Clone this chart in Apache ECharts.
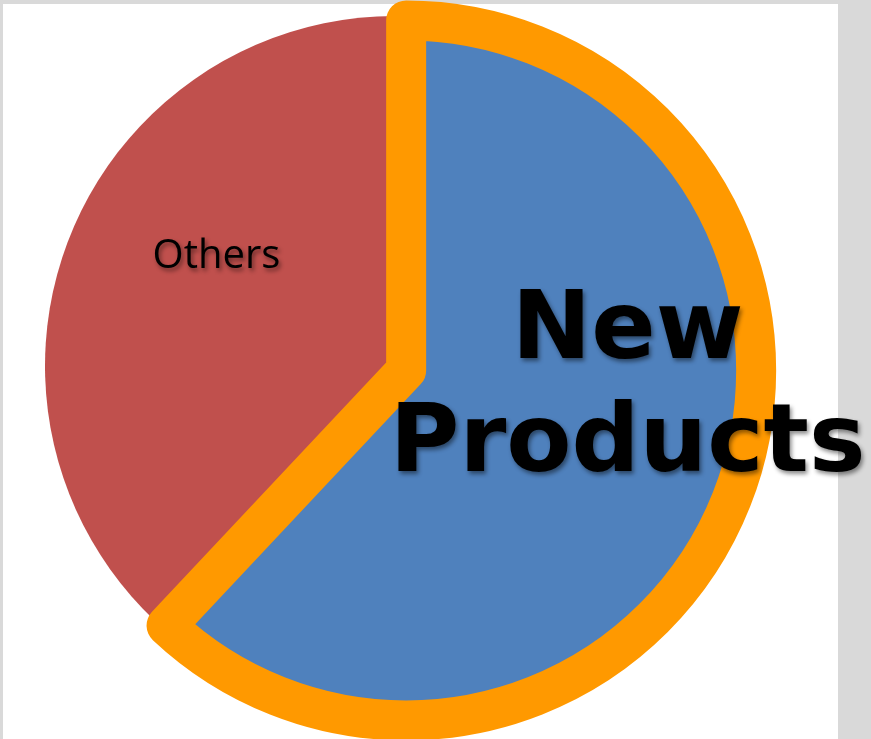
<!DOCTYPE html>
<html>
<head>
<meta charset="utf-8">
<script src="https://cdn.jsdelivr.net/npm/echarts@6/dist/echarts.min.js"></script>
<style>
html,body{margin:0;padding:0;background:#d9d9d9;}
#chart{width:871px;height:739px;}
</style>
</head>
<body>
<div id="chart"></div>
<script>
// Data
const categories = ['Others', 'New Products'];
const values = [38, 62];
const labelTexts = ['Others', 'New\nProducts'];

const chart = echarts.init(document.getElementById('chart'), null, {renderer: 'canvas'});

const shadow = {
  textShadowColor: 'rgba(0,0,0,0.45)',
  textShadowBlur: 4,
  textShadowOffsetX: 2,
  textShadowOffsetY: 3
};

const styles = [
  {
    itemStyle: {color: '#C0504D', borderWidth: 0},
    label: Object.assign({
      show: true, position: 'inside', formatter: labelTexts[0],
      fontFamily: 'Open Sans', fontSize: 40, color: '#000'
    }, shadow)
  },
  {
    selected: true,
    itemStyle: {color: '#4F81BD', borderColor: '#FF9900', borderWidth: 40, borderJoin: 'round'},
    select: {itemStyle: {color: '#4F81BD', borderColor: '#FF9900', borderWidth: 40, borderJoin: 'round'}},
    label: Object.assign({
      show: true, position: 'inside', formatter: labelTexts[1],
      fontFamily: 'DejaVu Sans', fontWeight: 'bold', fontSize: 95, lineHeight: 113,
      color: '#000', align: 'center'
    }, shadow)
  }
];

const data = categories.map((c, i) => Object.assign({name: c, value: values[i]}, styles[i]));

chart.setOption({
  animation: false,
  backgroundColor: '#d9d9d9',
  graphic: [{
    type: 'rect', z: -10, silent: true,
    shape: {x: 3, y: 4, width: 835, height: 740},
    style: {fill: '#ffffff'}
  }],
  series: [{
    type: 'pie',
    center: [395, 366],
    radius: [0, 350],
    startAngle: 90 + values[0] / (values[0] + values[1]) * 360,
    clockwise: true,
    selectedMode: 'single',
    selectedOffset: 12,
    avoidLabelOverlap: false,
    emphasis: {disabled: true, scale: false},
    labelLine: {show: false},
    labelLayout: function (p) {
      if (p.dataIndex === 1) return {dx: 56, dy: -46, hideOverlap: false};
      return {dx: -13, dy: -44, hideOverlap: false};
    },
    data: data
  }]
});
</script>
</body>
</html>
